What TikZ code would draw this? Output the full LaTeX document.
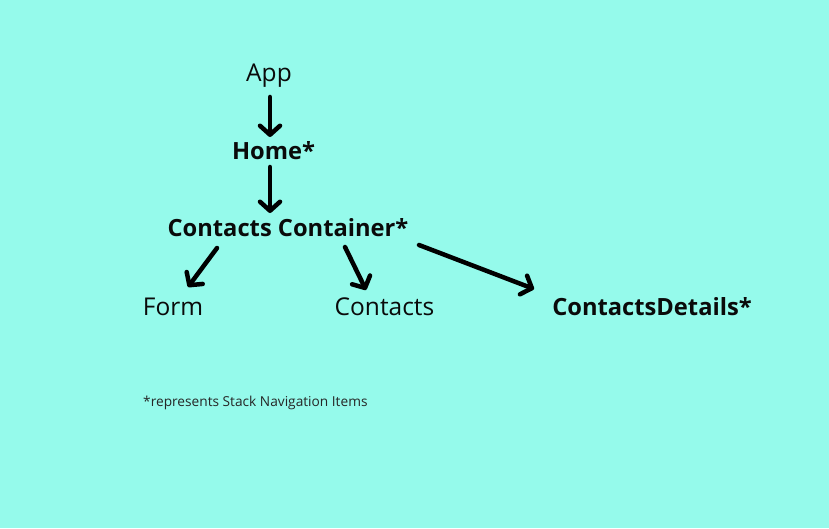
\documentclass[tikz,border=0pt]{standalone}
\usepackage{fontspec}
\setmainfont{Open Sans}
\usetikzlibrary{arrows.meta}
\definecolor{bg}{RGB}{149,250,235}
\definecolor{ink}{RGB}{10,10,10}
\begin{document}
\begin{tikzpicture}[x=1pt,y=1pt,
  lbl/.style={anchor=base,inner sep=0pt,text=ink,font=\fontsize{24.5}{28}\selectfont},
  blbl/.style={lbl,font=\fontsize{23.7}{28}\selectfont\bfseries},
  arr/.style={draw=black,line width=4.5pt,line cap=round,
    -{Straight Barb[length=9pt,width=20pt,round]}}]
\fill[bg] (0,0) rectangle (829,528);
\useasboundingbox (0,0) rectangle (829,528);
\node[lbl]  (app)  at (269,446) {App};
\node[blbl] (home) at (273.5,368) {Home*};
\node[blbl] (cc)   at (288,291) {Contacts Container*};
\node[lbl]  (form) at (173,213) {Form};
\node[lbl]  (cts)  at (384.5,213) {Contacts};
\node[blbl] (cd)   at (652,213) {ContactsDetails*};
\node[anchor=base west,inner sep=0pt,text=black!85,font=\fontsize{13.7}{16}\selectfont] (note) at (143,122) {*represents Stack Navigation Items};
\draw[arr] ([shift={(1,-15)}]app.base) -- ([shift={(-3.5,23)}]home.base);
\draw[arr] ([shift={(-3.5,-7)}]home.base) -- ([shift={(-18,24)}]cc.base);
\draw[arr] ([shift={(-71,-11)}]cc.base) -- ([shift={(15,28)}]form.base);
\draw[arr] ([shift={(57,-10)}]cc.base) -- ([shift={(-18.5,25)}]cts.base);
\draw[arr] ([shift={(131,-8)}]cc.base) -- ([shift={(-118,26)}]cd.base);
\end{tikzpicture}
\end{document}
